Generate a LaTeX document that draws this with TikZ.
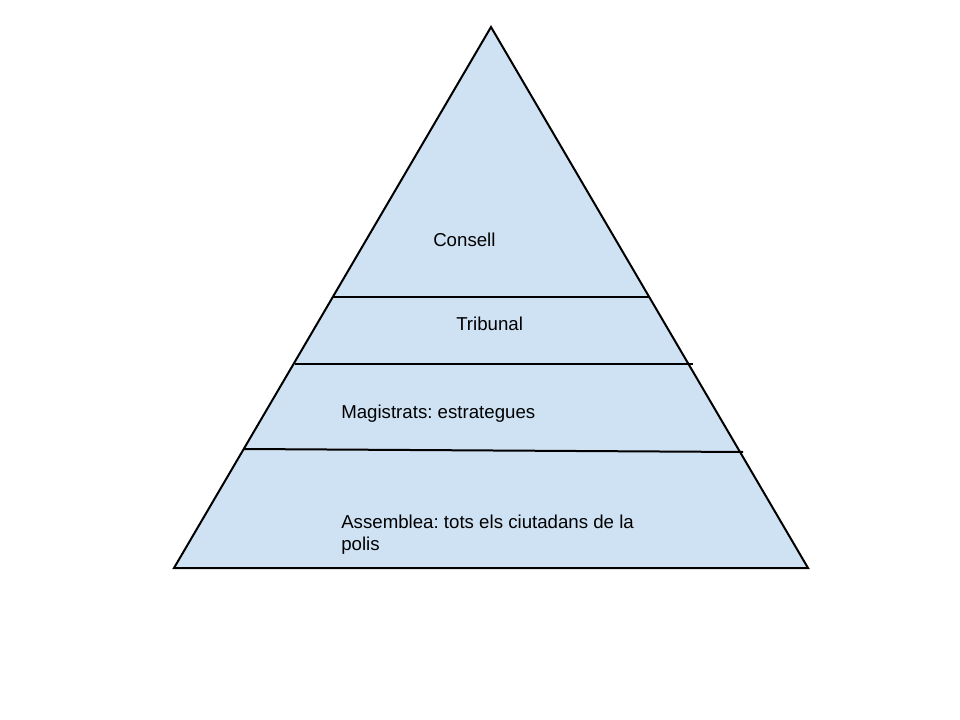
\documentclass[tikz,border=0pt]{standalone}
\usepackage{fontspec}
\setmainfont{Liberation Sans}
\definecolor{pyrfill}{HTML}{CFE2F3}
\frenchspacing
\begin{document}
\begin{tikzpicture}[x=0.75pt,y=-0.75pt,
  edge/.style={draw=black,line width=1.5pt,line join=miter},
  lbl/.style={anchor=base west,inner sep=0pt,font=\fontsize{14}{16.5}\selectfont\frenchspacing,align=left}]
\useasboundingbox[fill=white] (0,0) rectangle (960,720);
\coordinate (apex) at (491,27);
\coordinate (bl) at (174,568);
\coordinate (br) at (808,568);
\draw[edge,fill=pyrfill] (apex) -- (br) -- (bl) -- cycle;
\coordinate (l1a) at (333,297);
\coordinate (l1b) at (650,297);
\coordinate (l2a) at (295,364);
\coordinate (l2b) at (693,364);
\coordinate (l3a) at (244,449);
\coordinate (l3b) at (743,452);
\draw[edge] (l1a) -- (l1b);
\draw[edge] (l2a) -- (l2b);
\draw[edge] (l3a) -- (l3b);
\node[lbl] (consell) at (433,247) {Consell};
\node[lbl] (tribunal) at (456,330) {Tribunal};
\node[lbl] (magistrats) at (341,418) {Magistrats: estrategues};
\node[lbl] (assemblea) at (341,550) {Assemblea: tots els ciutadans de la\\polis};
\end{tikzpicture}
\end{document}
